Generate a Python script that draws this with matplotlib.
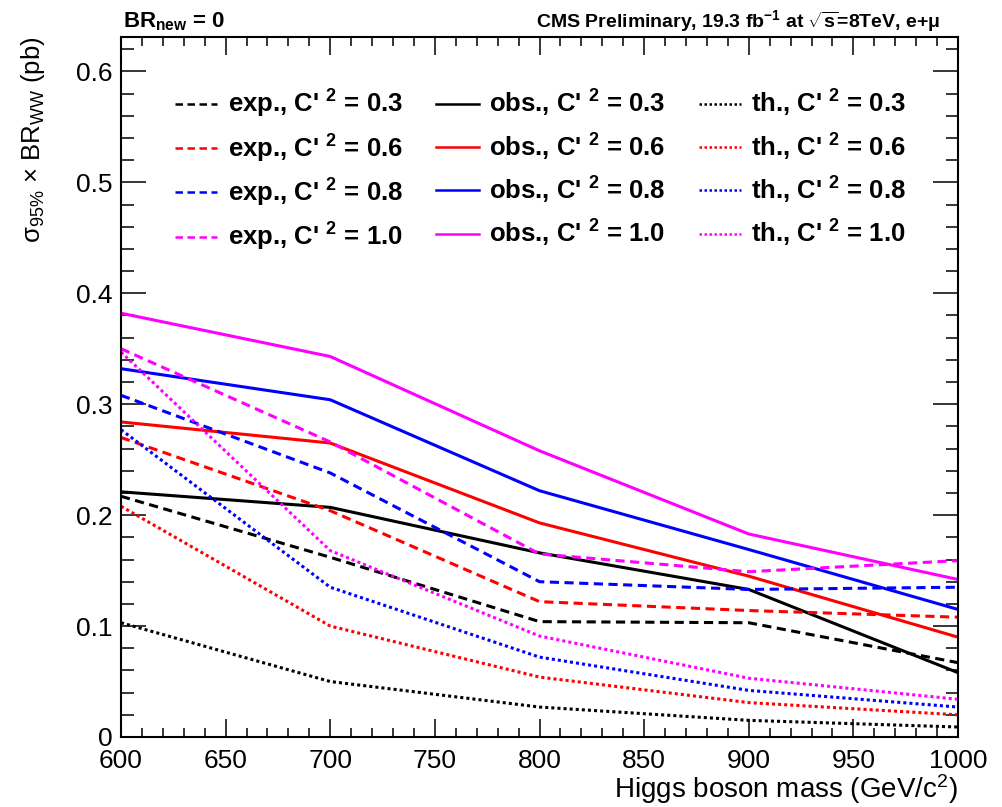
import matplotlib
matplotlib.use("Agg")
import matplotlib.pyplot as plt
from matplotlib.ticker import MultipleLocator

plt.rcParams['font.family'] = ['Liberation Sans', 'DejaVu Sans']
plt.rcParams['mathtext.fontset'] = 'custom'
plt.rcParams['mathtext.rm'] = 'Liberation Sans'
plt.rcParams['mathtext.it'] = 'Liberation Sans:italic'
plt.rcParams['mathtext.bf'] = 'Liberation Sans:bold'

# ---- data ----
mass = [600, 700, 800, 900, 1000]
couplings = ["0.3", "0.6", "0.8", "1.0"]
colors = ["black", "#ff0000", "#0000ff", "#ff00ff"]

exp_03 = [0.217, 0.162, 0.104, 0.103, 0.067]
exp_06 = [0.270, 0.204, 0.122, 0.114, 0.108]
exp_08 = [0.308, 0.238, 0.140, 0.133, 0.135]
exp_10 = [0.350, 0.266, 0.165, 0.149, 0.159]

obs_03 = [0.221, 0.207, 0.166, 0.133, 0.058]
obs_06 = [0.284, 0.265, 0.193, 0.145, 0.090]
obs_08 = [0.332, 0.304, 0.222, 0.169, 0.115]
obs_10 = [0.382, 0.343, 0.258, 0.183, 0.142]

th_03 = [0.103, 0.050, 0.027, 0.015, 0.009]
th_06 = [0.208, 0.100, 0.054, 0.031, 0.020]
th_08 = [0.277, 0.135, 0.072, 0.042, 0.027]
th_10 = [0.347, 0.168, 0.091, 0.053, 0.034]

exp_all = [exp_03, exp_06, exp_08, exp_10]
obs_all = [obs_03, obs_06, obs_08, obs_10]
th_all = [th_03, th_06, th_08, th_10]

fig = plt.figure(figsize=(10.03, 8.07), dpi=100)
ax = fig.add_axes([121/1003, 1-737/807, (958-121)/1003, (737-37)/807])

lw = 2.2
h_exp, h_obs, h_th = [], [], []
for c, col, e, o, t in zip(couplings, colors, exp_all, obs_all, th_all):
    l1, = ax.plot(mass, e, color=col, lw=lw, dashes=(3.0, 1.8),
                  label=r"exp., C' $^{\mathbf{2}}$ = " + c)
    l2, = ax.plot(mass, o, color=col, lw=lw, ls='-',
                  label=r"obs., C' $^{\mathbf{2}}$ = " + c)
    l3, = ax.plot(mass, t, color=col, lw=lw, dashes=(1.0, 1.0),
                  label=r"th., C' $^{\mathbf{2}}$ = " + c)
    h_exp.append(l1); h_obs.append(l2); h_th.append(l3)

ax.set_xlim(600, 1000)
ax.set_ylim(0, 0.631)
ax.xaxis.set_major_locator(MultipleLocator(50))
ax.xaxis.set_minor_locator(MultipleLocator(10))
ax.yaxis.set_major_locator(MultipleLocator(0.1))
ax.yaxis.set_minor_locator(MultipleLocator(0.02))
ax.yaxis.set_major_formatter(plt.FuncFormatter(lambda v, p: "0" if abs(v) < 1e-9 else f"{v:.1f}"))

for s in ax.spines.values():
    s.set_linewidth(1.5)
ax.tick_params(axis='both', which='both', direction='in', top=True, right=True,
               width=1.1, labelsize=19)
ax.tick_params(axis='y', which='major', length=18, pad=6)
ax.tick_params(axis='y', which='minor', length=9)
ax.tick_params(axis='x', which='major', length=13, pad=9)
ax.tick_params(axis='x', which='minor', length=6.5)

ax.set_xlabel(r"Higgs boson mass (GeV/c$^{2}$)", fontsize=20, loc='right')
ax.xaxis.set_label_coords(1.0, -0.050)
ax.set_ylabel(r"σ$_{95\%}$ × BR$_{\mathrm{WW}}$ (pb)", fontsize=18.5, loc='top')
ax.yaxis.set_label_coords(-0.088, 1.0)

handles = h_exp + h_obs + h_th
leg = ax.legend(handles=handles, ncol=3, loc='upper left',
                bbox_to_anchor=(0.0645, 0.927), frameon=False,
                prop={'weight': 'bold', 'size': 18.5},
                handlelength=1.65, handletextpad=0.4, columnspacing=1.3,
                labelspacing=0.47, borderpad=0, borderaxespad=0)
for lh in leg.get_lines():
    lh.set_linewidth(1.8)

fig.text(123/1003, 1-27/807, r"BR$_{\mathbf{new}}$ = 0", fontsize=16,
         fontweight='bold', ha='left', va='baseline')
fig.text(940/1003, 1-27/807,
         r"CMS Preliminary, 19.3 fb$^{\mathbf{-1}}$ at $\sqrt{\mathbf{s}}$=8TeV, e+μ",
         fontsize=14, fontweight='bold', ha='right', va='baseline')

fig.savefig("out.png", dpi=100)
